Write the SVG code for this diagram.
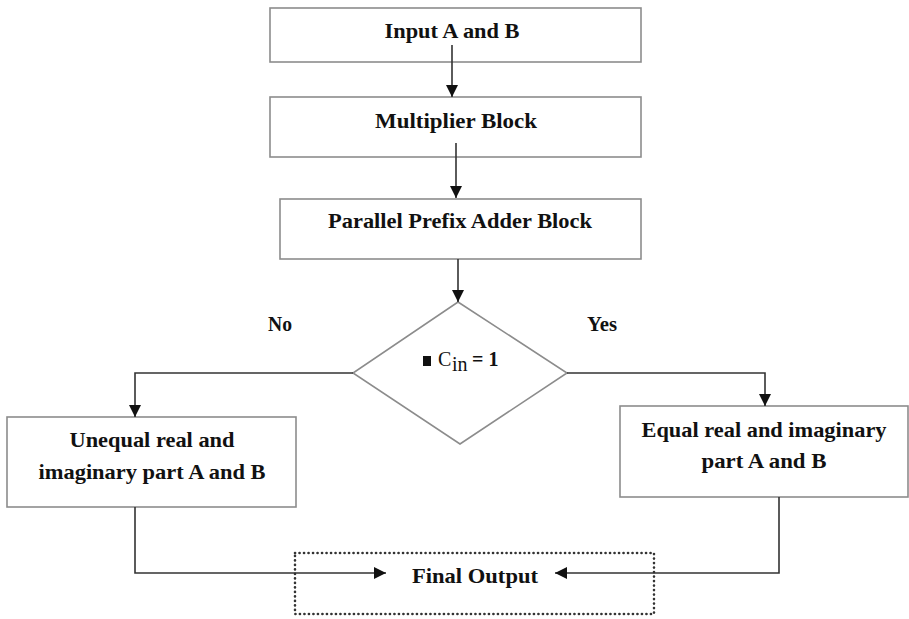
<svg xmlns="http://www.w3.org/2000/svg" width="909" height="619" viewBox="0 0 909 619">
  <style>
    .box { fill: #ffffff; stroke: #8c8c8c; stroke-width: 1.6; }
    .dot { fill: none; stroke: #333; stroke-width: 2.6; stroke-dasharray: 0.1 4.4; stroke-linecap: round; }
    .wire { fill: none; stroke: #333; stroke-width: 1.6; }
    .lbl { font-family: "Liberation Serif", "Times New Roman", serif; font-weight: bold; font-size: 21px; fill: #111; text-anchor: middle; }
    .sym { font-family: "Liberation Serif", serif; font-size: 20px; fill: #111; }
  </style>
  <defs>
    <marker id="arrow" viewBox="0 0 12 12" refX="12" refY="6" markerWidth="13" markerHeight="12" markerUnits="userSpaceOnUse" orient="auto">
      <path d="M0,0 L12,6 L0,12 Z" fill="#111"/>
    </marker>
  </defs>
  <rect width="909" height="619" fill="#ffffff"/>

  <g id="input">
    <rect class="box" x="270" y="8" width="371" height="54"/>
    <text class="lbl" x="452" y="38" textLength="135" lengthAdjust="spacingAndGlyphs">Input A and B</text>
  </g>
  <g id="multiplier">
    <rect class="box" x="270" y="97" width="371" height="60"/>
    <text class="lbl" x="456" y="128" textLength="162" lengthAdjust="spacingAndGlyphs">Multiplier Block</text>
  </g>
  <g id="adder">
    <rect class="box" x="280" y="199" width="361" height="60"/>
    <text class="lbl" x="460" y="228" textLength="264" lengthAdjust="spacingAndGlyphs">Parallel Prefix Adder Block</text>
  </g>
  <g id="decision">
    <polygon class="box" points="458,302 567,373 460,444 353,373"/>
    <rect x="423" y="356" width="8" height="10" fill="#111"/>
    <text class="sym" x="438" y="366" font-size="20">C</text>
    <text class="sym" x="452" y="371" font-size="14">in</text>
    <text class="sym" x="472" y="366" font-size="16" font-weight="bold">= 1</text>
  </g>
  <g id="unequal">
    <rect class="box" x="7" y="417" width="289" height="90"/>
    <text class="lbl" x="152" y="447" textLength="165" lengthAdjust="spacingAndGlyphs">Unequal real and</text>
    <text class="lbl" x="152" y="479" textLength="227" lengthAdjust="spacingAndGlyphs">imaginary part A and B</text>
  </g>
  <g id="equal">
    <rect class="box" x="620" y="406" width="288" height="91"/>
    <text class="lbl" x="764" y="437" textLength="245" lengthAdjust="spacingAndGlyphs">Equal real and imaginary</text>
    <text class="lbl" x="764" y="468" textLength="125" lengthAdjust="spacingAndGlyphs">part A and B</text>
  </g>
  <g id="output">
    <rect class="dot" x="295" y="553" width="359" height="61"/>
    <text class="lbl" x="475" y="583" textLength="126" lengthAdjust="spacingAndGlyphs">Final Output</text>
  </g>

  <g id="branch-labels">
    <text class="lbl" x="280" y="331" textLength="24" lengthAdjust="spacingAndGlyphs">No</text>
    <text class="lbl" x="602" y="331" textLength="30" lengthAdjust="spacingAndGlyphs">Yes</text>
  </g>

  <g id="connectors">
    <path class="wire" d="M452,45 V97" marker-end="url(#arrow)"/>
    <path class="wire" d="M456,143 V198" marker-end="url(#arrow)"/>
    <path class="wire" d="M458,259 V302" marker-end="url(#arrow)"/>
    <path class="wire" d="M353,373 H135 V417" marker-end="url(#arrow)"/>
    <path class="wire" d="M567,373 H765 V406" marker-end="url(#arrow)"/>
    <path class="wire" d="M135,507 V573 H386" marker-end="url(#arrow)"/>
    <path class="wire" d="M779,497 V573 H555" marker-end="url(#arrow)"/>
  </g>
</svg>
